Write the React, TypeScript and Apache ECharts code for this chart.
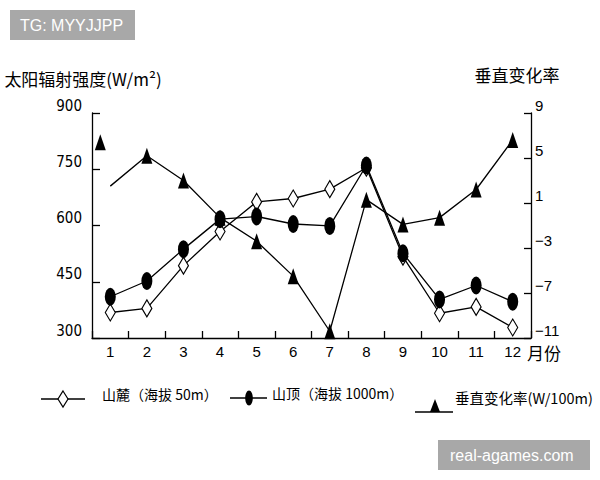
import React, { useEffect, useRef } from 'react';
import * as echarts from 'echarts';

// ---- data ----
const months = ['1', '2', '3', '4', '5', '6', '7', '8', '9', '10', '11', '12'];
const footRadiation = [368, 379, 493, 584, 663, 672, 697, 754, 517, 366, 383, 328]; // 山麓（海拔 50m）
const topRadiation = [410, 452, 537, 617, 624, 604, 599, 760, 526, 403, 440, 397]; // 山顶（海拔 1000m）
const verticalRate = [2.5, 5.2, 3.0, -0.3, -2.4, -5.5, -10.4, 1.3, -0.9, -0.3, 2.2, 6.6]; // 垂直变化率
const leftTicks = [300, 450, 600, 750, 900];
const rightTicks = [-11, -7, -3, 1, 5, 9];
const seriesNames = ['山麓（海拔 50m）', '山顶（海拔 1000m）', '垂直变化率(W/100m)'];
const leftAxisName = '太阳辐射强度(W/m²)';
const rightAxisName = '垂直变化率';
const xAxisName = '月份';

const CJK = "'Noto Sans CJK SC', sans-serif";
const NUM = "'Liberation Sans Narrow', 'DejaVu Sans Condensed', 'Liberation Sans', sans-serif";
const SANS = "'Liberation Sans', Arial, sans-serif";
const ELLIPSE = 'path://M10,0 A10,14 0 1,1 10,28 A10,14 0 1,1 10,0 Z';

export default function App() {
  const ref = useRef<HTMLDivElement>(null);

  useEffect(() => {
    if (!ref.current) return;
    const chart = echarts.init(ref.current, null, { renderer: 'svg' });

    const lineStyle = { color: '#000', width: 1.3 };

    const rateData = verticalRate.map((v, i) =>
      i === 0 ? { value: v, symbolOffset: [-10, -44] } : v
    );

    const option: any = {
      animation: false,
      backgroundColor: '#fff',
      grid: { left: 92, right: 69, top: 113, bottom: 142, containLabel: false },
      xAxis: {
        type: 'category',
        data: months,
        boundaryGap: true,
        name: xAxisName,
        nameLocation: 'end',
        nameGap: -4,
        nameTextStyle: {
          fontFamily: CJK,
          fontSize: 17,
          color: '#000',
          verticalAlign: 'top',
          padding: [6, 0, 0, 0],
        },
        axisLine: { onZero: false, lineStyle: { color: '#000', width: 1.3 } },
        axisTick: { show: true, inside: true, length: 7, lineStyle: { color: '#000', width: 1.3 } },
        axisLabel: { color: '#000', fontFamily: SANS, fontSize: 15, margin: 6 },
        splitLine: { show: false },
      },
      yAxis: [
        {
          type: 'value',
          position: 'left',
          min: leftTicks[0],
          max: leftTicks[leftTicks.length - 1],
          interval: leftTicks[1] - leftTicks[0],
          name: leftAxisName,
          nameLocation: 'end',
          nameGap: 26,
          nameTextStyle: {
            fontFamily: CJK,
            fontSize: 17,
            color: '#000',
            align: 'center',
            padding: [0, 18, 0, 0],
          },
          axisLine: { show: true, onZero: false, lineStyle: { color: '#000', width: 1.3 } },
          axisTick: { show: true, inside: true, length: 8, lineStyle: { color: '#000', width: 1.3 } },
          axisLabel: {
            color: '#000',
            fontFamily: NUM,
            fontSize: 15,
            margin: 10,
            verticalAlign: 'bottom',
          },
          splitLine: { show: false },
        },
        {
          type: 'value',
          position: 'right',
          min: rightTicks[0],
          max: rightTicks[rightTicks.length - 1],
          interval: rightTicks[1] - rightTicks[0],
          name: rightAxisName,
          nameLocation: 'end',
          nameGap: 30,
          nameTextStyle: {
            fontFamily: CJK,
            fontSize: 17,
            color: '#000',
            align: 'center',
            padding: [0, 28, 0, 0],
          },
          axisLine: { show: true, onZero: false, lineStyle: { color: '#000', width: 1.3 } },
          axisTick: { show: true, inside: true, length: 7, lineStyle: { color: '#000', width: 1.3 } },
          axisLabel: {
            color: '#000',
            fontFamily: SANS,
            fontSize: 15,
            margin: 4,
            verticalAlign: 'bottom',
            formatter: (v: number) => String(v).replace('-', '\u2212'),
          },
          splitLine: { show: false },
        },
      ],
      series: [
        {
          name: seriesNames[0],
          type: 'line',
          yAxisIndex: 0,
          data: footRadiation,
          symbol: 'diamond',
          symbolSize: [10, 17],
          showAllSymbol: true,
          lineStyle,
          itemStyle: { color: '#fff', borderColor: '#000', borderWidth: 1.2 },
          z: 2,
        },
        {
          name: seriesNames[1],
          type: 'line',
          yAxisIndex: 0,
          data: topRadiation,
          symbol: ELLIPSE,
          symbolSize: [11, 18],
          symbolKeepAspect: false,
          showAllSymbol: true,
          lineStyle,
          itemStyle: { color: '#000', borderColor: '#000', borderWidth: 0 },
          z: 3,
        },
        {
          name: seriesNames[2],
          type: 'line',
          yAxisIndex: 1,
          data: rateData,
          symbol: 'triangle',
          symbolSize: [11, 16],
          showAllSymbol: true,
          lineStyle,
          itemStyle: { color: '#000', borderColor: '#000', borderWidth: 0 },
          z: 4,
        },
      ],
      graphic: [
        // legend item 1
        { type: 'line', shape: { x1: 41, y1: 399, x2: 85, y2: 399 }, style: { stroke: '#000', lineWidth: 1.3 } },
        {
          type: 'polygon',
          shape: { points: [[63, 391], [68, 399], [63, 407], [58, 399]] },
          style: { fill: '#fff', stroke: '#000', lineWidth: 1.2 },
        },
        {
          type: 'text', x: 102, y: 394,
          style: { text: seriesNames[0], font: `14px ${CJK}`, fill: '#000', verticalAlign: 'middle' },
        },
        // legend item 2
        { type: 'line', shape: { x1: 230, y1: 398, x2: 267, y2: 398 }, style: { stroke: '#000', lineWidth: 1.3 } },
        { type: 'ellipse', shape: { cx: 249, cy: 398, rx: 3.8, ry: 7.5 }, style: { fill: '#000' } },
        {
          type: 'text', x: 272, y: 393,
          style: { text: seriesNames[1], font: `14px ${CJK}`, fill: '#000', verticalAlign: 'middle' },
        },
        // legend item 3
        { type: 'line', shape: { x1: 415, y1: 412, x2: 453, y2: 412 }, style: { stroke: '#000', lineWidth: 1.3 } },
        {
          type: 'polygon',
          shape: { points: [[435, 399], [440, 412], [430, 412]] },
          style: { fill: '#000' },
        },
        {
          type: 'text', x: 455, y: 397,
          style: { text: seriesNames[2], font: `14.5px ${CJK}`, fill: '#000', verticalAlign: 'middle' },
        },
        // watermark boxes
        { type: 'rect', shape: { x: 10, y: 10, width: 125, height: 30 }, style: { fill: '#a8a8a8' } },
        {
          type: 'text', x: 20, y: 25,
          style: { text: 'TG: MYYJJPP', font: `16px ${SANS}`, fill: '#fff', verticalAlign: 'middle' },
        },
        { type: 'rect', shape: { x: 438, y: 440, width: 152, height: 30 }, style: { fill: '#a8a8a8' } },
        {
          type: 'text', x: 450, y: 455,
          style: { text: 'real-agames.com', font: `16px ${SANS}`, fill: '#fff', verticalAlign: 'middle' },
        },
      ],
    };

    chart.setOption(option);
    return () => chart.dispose();
  }, []);

  return (
    <div
      ref={ref}
      style={{ position: 'fixed', left: 0, top: 0, width: 600, height: 480, background: '#fff' }}
    />
  );
}
